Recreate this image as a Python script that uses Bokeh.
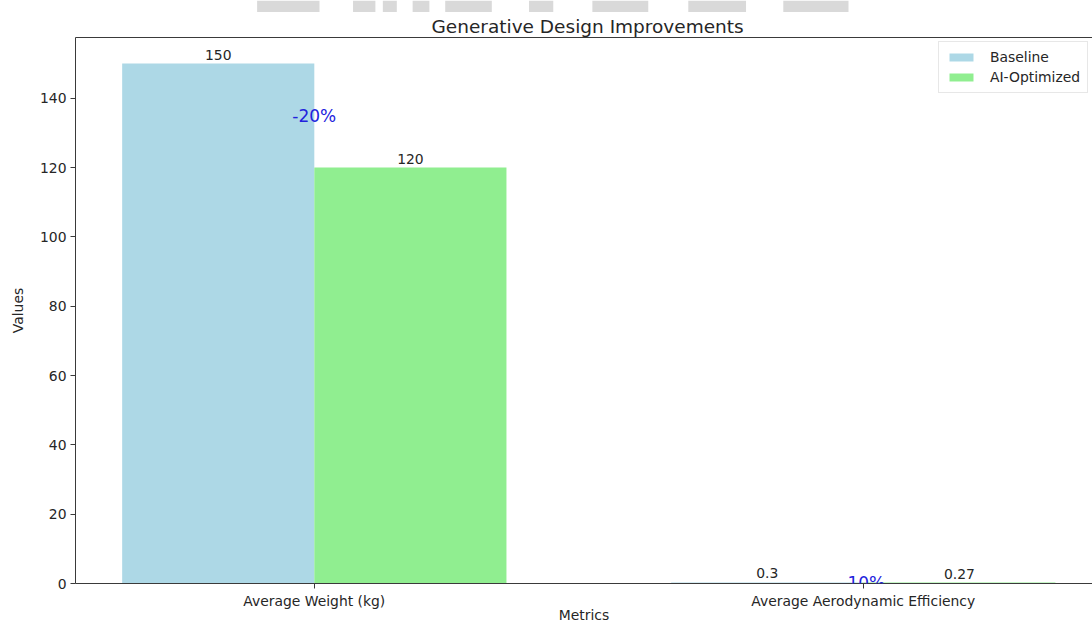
import numpy as np
from bokeh.plotting import figure
from bokeh.models import Range1d, FixedTicker, LinearAxis, Label
from bokeh.core.properties import value
from bokeh.layouts import column
from bokeh.embed import file_html
from bokeh.resources import INLINE

# Metrics compared and their values
categories = ["Average Weight (kg)", "Average Aerodynamic Efficiency"]
baseline = [150, 0.3]
optimized = [120, 0.27]
series_names = ["Baseline", "AI-Optimized"]
y_ticks = [0, 20, 40, 60, 80, 100, 120, 140]

FONT = "DejaVu Sans"
TEXT = "#262626"
AXIS = "#3a3a3a"
BAR_W = 0.35

idx = np.arange(len(categories))
top_val = max(baseline + optimized)

# grey banner strip across the top edge
banner_left = [195, 298, 330, 362, 397, 487, 555, 658, 760]
banner_right = [262, 322, 345, 380, 447, 513, 615, 720, 830]
strip = figure(width=1092, height=12, x_range=Range1d(0, 1092), y_range=Range1d(0, 12),
               output_backend="svg", toolbar_location=None, min_border=0,
               x_axis_location=None, y_axis_location=None, outline_line_color=None)
strip.grid.visible = False
strip.quad(left=banner_left, right=banner_right, bottom=0, top=12,
           fill_color="#d9d9d9", line_color=None)

p = figure(width=1092, height=613,
           x_range=Range1d(-0.435, 1.4175), y_range=Range1d(0, top_val * 1.05),
           output_backend="svg", toolbar_location=None,
           min_border_left=75, min_border_right=0, min_border_top=25, min_border_bottom=42,
           outline_line_color=None, background_fill_color="white")
p.grid.visible = False

p.title.text = "Generative Design Improvements"
p.title.align = "left"
p.title.offset = 356
p.title.text_font = FONT
p.title.text_font_size = "18.5px"
p.title.text_font_style = "normal"
p.title.text_color = TEXT
p.title.standoff = 2

p.vbar(x=idx - BAR_W / 2, top=baseline, width=BAR_W, fill_color="#ADD8E6",
       line_color=None, legend_label=series_names[0])
p.vbar(x=idx + BAR_W / 2, top=optimized, width=BAR_W, fill_color="#90EE90",
       line_color=None, legend_label=series_names[1])

# value labels above each bar
for offs, vals in ((-BAR_W / 2, baseline), (BAR_W / 2, optimized)):
    p.text(x=idx + offs, y=vals, text=[f"{v:g}" for v in vals],
           text_align="center", text_baseline="bottom", y_offset=-4,
           text_font=value(FONT), text_font_size="13.9px", text_color=TEXT)

# relative change between the two designs
for i, (b, o) in enumerate(zip(baseline, optimized)):
    pct = (o - b) / b * 100
    p.add_layout(Label(x=i, y=(b + o) / 2, text=f"{pct:.0f}%",
                       text_align="center", text_baseline="middle",
                       text_font=FONT, text_font_size="17px", text_color="#2222dd"))

# axes
p.xaxis.ticker = FixedTicker(ticks=list(idx))
p.xaxis.major_label_overrides = {int(i): c for i, c in zip(idx, categories)}
p.xaxis.axis_label = "Metrics"
p.yaxis.ticker = FixedTicker(ticks=y_ticks)
p.yaxis.axis_label = "Values"
p.yaxis.axis_label_standoff = 11
for ax in (p.xaxis[0], p.yaxis[0]):
    ax.axis_line_color = AXIS
    ax.major_tick_line_color = AXIS
    ax.major_tick_out = 5
    ax.major_tick_in = 0
    ax.minor_tick_line_color = None
    ax.major_label_standoff = 4
    ax.major_label_text_font = FONT
    ax.major_label_text_font_size = "13.9px"
    ax.major_label_text_color = TEXT
    ax.axis_label_text_font = FONT
    ax.axis_label_text_font_size = "13.9px"
    ax.axis_label_text_font_style = "normal"
    ax.axis_label_text_color = TEXT
p.xaxis.axis_label_standoff = -5

top_axis = LinearAxis(ticker=FixedTicker(ticks=[]), axis_line_color=AXIS,
                      major_tick_line_color=None, minor_tick_line_color=None,
                      major_label_text_font_size="0px", major_label_standoff=0,
                      major_tick_out=0)
p.add_layout(top_axis, "above")

lg = p.legend[0]
lg.location = (863, 490)
lg.label_text_font = FONT
lg.label_text_font_size = "13.9px"
lg.label_text_color = TEXT
lg.label_height = 16
lg.glyph_height = 10
lg.glyph_width = 30
lg.label_standoff = 14
lg.padding = 7
lg.spacing = 4
lg.margin = 0
lg.border_line_color = "#d0d0d0"
lg.background_fill_alpha = 0.8

layout = column(strip, p, spacing=0)
open("out.html", "w").write(file_html(layout, INLINE))
